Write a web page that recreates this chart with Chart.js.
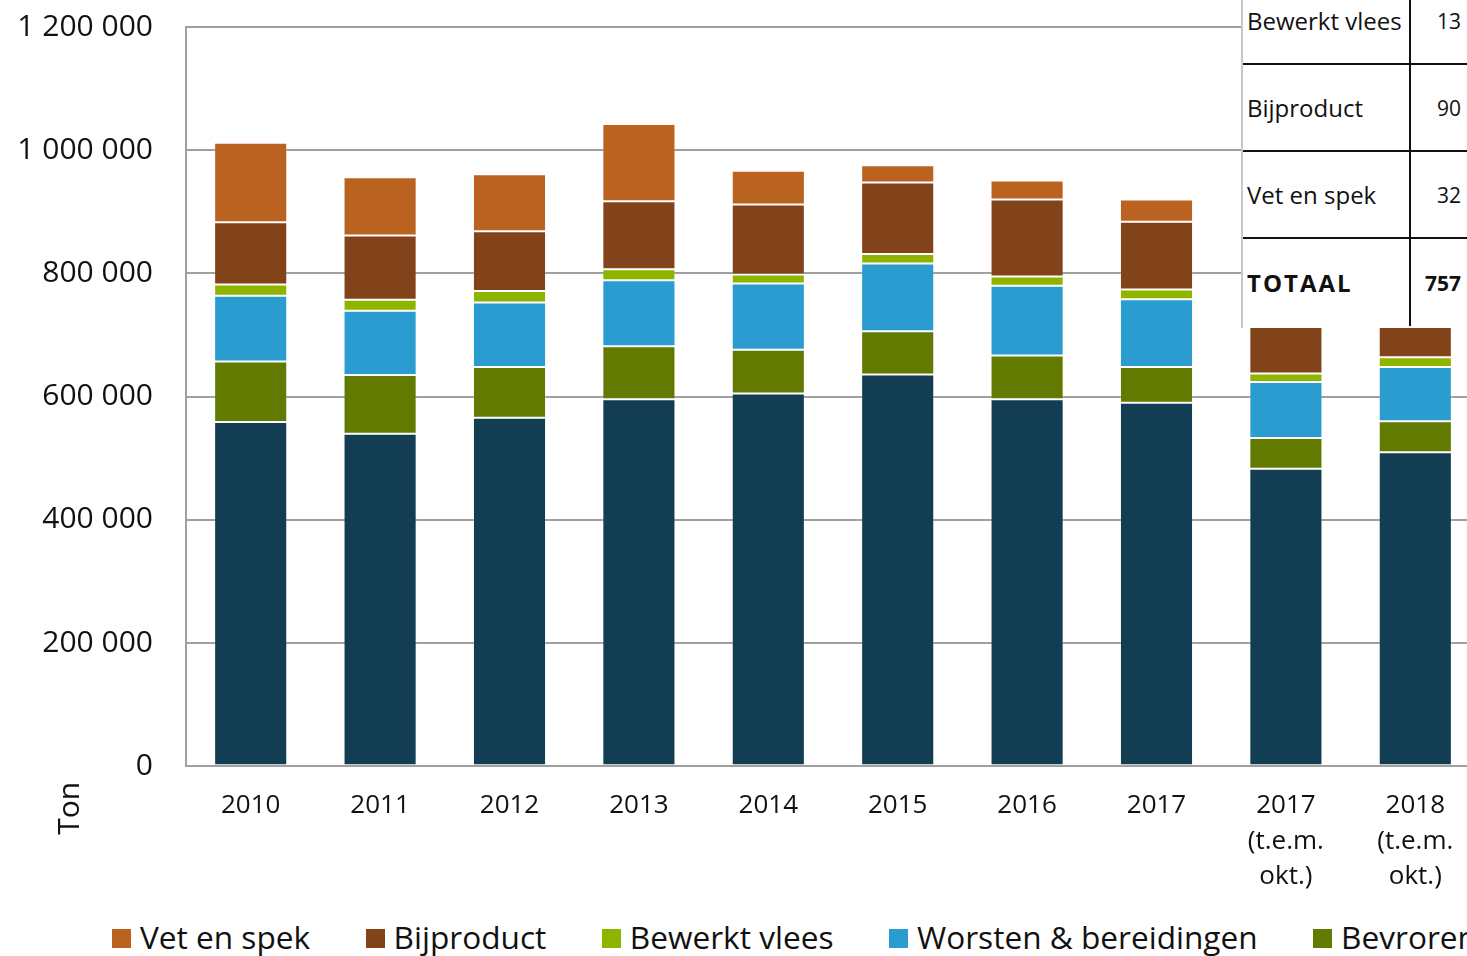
<!DOCTYPE html>
<html lang="nl">
<head>
<meta charset="UTF-8">
<title>Vleesproducten per jaar</title>
<script src="https://cdn.jsdelivr.net/npm/chart.js@4.4.0/dist/chart.umd.min.js"></script>
<style>
  html, body { margin: 0; padding: 0; background: #fff; overflow: hidden; width: 1467px; height: 956px; }
  body { position: relative; font-family: "Open Sans", sans-serif; color: #111; }
  #wrap { position: absolute; left: 0; top: 0; width: 1500px; height: 908px; }
  #legend { position: absolute; left: 112px; top: 916px; display: flex; white-space: nowrap; font-size: 31.6px; line-height: 42px; }
  #legend .item { display: flex; align-items: center; margin-right: 55.5px; }
  #legend .box { width: 19px; height: 19px; margin-right: 9px; margin-top: 2px; }
  #tbl { position: absolute; left: 1241px; top: -22px; width: 240px; background: #fff; border-left: 2px solid #c8c8c8; height: 350px; font-size: 24px; }
  #tbl .row { display: flex; height: 85px; border-bottom: 2px solid #111; }
  #tbl .row:last-child { border-bottom: none; height: 87px; }
  #tbl .c1 { width: 162px; padding-left: 4px; display: flex; align-items: center; border-right: 2px solid #111; }
  #tbl .c2 { width: 50px; display: flex; align-items: center; justify-content: flex-end; padding-right: 5px; font-size: 21px; }
  #tbl .tot { font-weight: bold; letter-spacing: 2px; }
</style>
</head>
<body>
<div id="wrap"><canvas id="chart"></canvas></div>
<div id="tbl">
  <div class="row"><div class="c1">Bewerkt vlees</div><div class="c2">13</div></div>
  <div class="row"><div class="c1">Bijproduct</div><div class="c2">90</div></div>
  <div class="row"><div class="c1">Vet en spek</div><div class="c2">32</div></div>
  <div class="row"><div class="c1 tot">TOTAAL</div><div class="c2" style="font-weight:bold">757</div></div>
</div>
<div id="legend"></div>
<script>
// categorieën
const labels = ['2010', '2011', '2012', '2013', '2014', '2015', '2016', '2017',
  ['2017', '(t.e.m.', 'okt.)'], ['2018', '(t.e.m.', 'okt.)']];

// ton per categorie (van onder naar boven gestapeld)
const versVlees     = [559000, 540000, 566000, 596000, 605000, 636000, 596000, 590000, 483000, 510000];
const bevroren      = [98000, 95000, 82000, 86000, 71000, 70000, 71000, 58000, 50000, 50000];
const worsten       = [107000, 104500, 105000, 107000, 107500, 110000, 113000, 110000, 91000, 88000];
const bewerktVlees  = [18000, 18000, 18500, 18000, 15000, 15500, 15000, 16000, 13500, 16000];
const bijproduct    = [101000, 104000, 97000, 110000, 113500, 116000, 125000, 110000, 95000, 90000];
const vetEnSpek     = [129000, 94500, 92500, 125500, 54500, 28000, 31000, 36000, 30000, 32000];

const yMax = 1200000;
const yStep = 200000;

function fmt(v) {
  return String(v).replace(/\B(?=(\d{3})+(?!\d))/g, ' ');
}

// "Ton" onder de y-as
const tonLabel = {
  id: 'tonLabel',
  afterDraw(chart) {
    const ctx = chart.ctx;
    const a = chart.chartArea;
    ctx.save();
    ctx.translate(a.left - 116, a.bottom + 42);
    ctx.rotate(-Math.PI / 2);
    ctx.font = '30px "Open Sans"';
    ctx.fillStyle = '#111';
    ctx.textAlign = 'center';
    ctx.textBaseline = 'middle';
    ctx.fillText('Ton', 0, 0);
    ctx.restore();
  }
};

const edge = 'rgba(255,255,255,0.18)';
const ctx = document.getElementById('chart').getContext('2d');
const chart = new Chart(ctx, {
  type: 'bar',
  data: {
    labels: labels,
    datasets: [
      { label: 'Vers vlees', data: versVlees, backgroundColor: '#123d52' },
      { label: 'Bevroren vlees', data: bevroren, backgroundColor: '#627a00' },
      { label: 'Worsten & bereidingen', data: worsten, backgroundColor: '#2b9cd0' },
      { label: 'Bewerkt vlees', data: bewerktVlees, backgroundColor: '#8fb400' },
      { label: 'Bijproduct', data: bijproduct, backgroundColor: '#82431b' },
      { label: 'Vet en spek', data: vetEnSpek, backgroundColor: '#ba6220' }
    ].map(d => Object.assign(d, { borderColor: edge, borderWidth: 1, borderSkipped: false }))
  },
  options: {
    responsive: true,
    maintainAspectRatio: false,
    animation: false,
    layout: { padding: { left: 10, top: 27, right: 20, bottom: 0 } },
    datasets: { bar: { barPercentage: 1, categoryPercentage: 0.565 } },
    scales: {
      x: {
        stacked: true,
        grid: { display: false },
        border: { color: '#a0a0a0', width: 2 },
        ticks: { color: '#111', font: { family: 'Open Sans', size: 26, lineHeight: 1.38 }, padding: 13, maxRotation: 0, autoSkip: false }
      },
      y: {
        stacked: true,
        min: 0,
        max: yMax,
        afterFit(s) { s.width = 176; s.paddingTop = 0; s.paddingBottom = 0; },
        ticks: { stepSize: yStep, color: '#111', font: { family: 'Open Sans', size: 30 }, padding: 33, callback: v => fmt(v) },
        grid: { color: '#a0a0a0', lineWidth: 2, drawTicks: false },
        border: { color: '#a0a0a0', width: 2 }
      }
    },
    plugins: {
      legend: { display: false },
      tooltip: { enabled: false }
    }
  },
  plugins: [tonLabel]
});

// legenda, bovenste laag eerst
const legend = document.getElementById('legend');
chart.data.datasets.slice().reverse().forEach(ds => {
  const item = document.createElement('div');
  item.className = 'item';
  const box = document.createElement('span');
  box.className = 'box';
  box.style.background = ds.backgroundColor;
  const txt = document.createElement('span');
  txt.textContent = ds.label;
  item.appendChild(box);
  item.appendChild(txt);
  legend.appendChild(item);
});
</script>
</body>
</html>
